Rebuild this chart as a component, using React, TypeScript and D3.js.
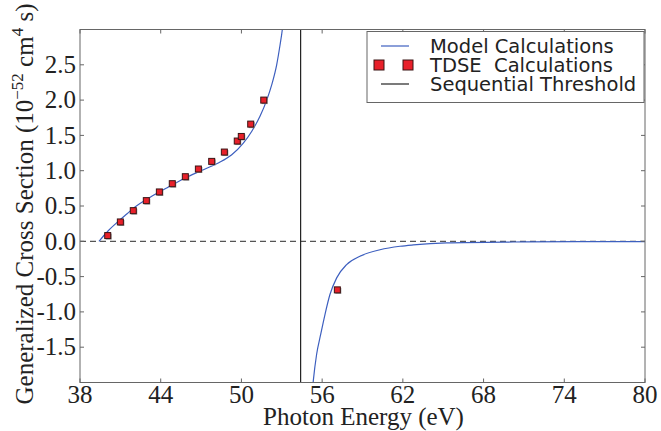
import React, { useEffect, useRef } from 'react'
import * as d3 from 'd3'

// model curve below the sequential threshold (eV, 10^-52 cm^4 s)
const modelLowE = [39.41, 40.1, 40.85, 41.5, 42.09, 43.33, 44.57, 45.81, 47.05, 48.28, 49.28, 50.14, 50.76, 51.38, 51.88, 52.25, 52.62, 52.87, 53.04, 53.2]
const modelLowV = [0, 0.15, 0.283, 0.39, 0.486, 0.637, 0.77, 0.897, 1.004, 1.11, 1.226, 1.39, 1.556, 1.77, 2.0, 2.216, 2.5, 2.78, 3.0, 3.3]

// model curve above the threshold
const modelHighE = [55.28, 55.34, 55.59, 55.89, 56.21, 56.58, 57.08, 57.82, 58.81, 60.3, 61.79, 62.78, 65.26, 70.2, 75, 80]
const modelHighV = [-2.1, -1.98, -1.6, -1.32, -1.037, -0.754, -0.518, -0.33, -0.212, -0.12, -0.07, -0.051, -0.023, -0.01, -0.006, -0.004]

// TDSE points
const tdseE = [40.06, 41.0, 41.96, 42.93, 43.9, 44.86, 45.83, 46.8, 47.79, 48.73, 49.69, 49.99, 50.69, 51.66, 57.13]
const tdseV = [0.081, 0.274, 0.434, 0.576, 0.699, 0.816, 0.915, 1.024, 1.132, 1.264, 1.42, 1.485, 1.66, 2.0, -0.688]

const threshold = 54.4
const xTicks = [38, 44, 50, 56, 62, 68, 74, 80]
const yTicks = [-1.5, -1.0, -0.5, 0.0, 0.5, 1.0, 1.5, 2.0, 2.5]
const legendLabels = ['Model Calculations', 'TDSE  Calculations', 'Sequential Threshold']

const BLUE = '#3d5fbf'
const RED = '#e8202a'

const App = () => {
  const svgRef = useRef(null)

  useEffect(() => {
    const svg = d3.select(svgRef.current)
    svg.selectAll('*').remove()

    const W = 661
    const H = 431
    const left = 80
    const right = 645
    const top = 29.5
    const bottom = 382.5

    const x = d3.scaleLinear().domain([38, 80]).range([left, right])
    const y = d3.scaleLinear().domain([-2, 3]).range([bottom, top])

    svg.attr('width', W).attr('height', H)

    svg
      .append('defs')
      .append('clipPath')
      .attr('id', 'plot-clip')
      .append('rect')
      .attr('x', left)
      .attr('y', top)
      .attr('width', right - left)
      .attr('height', bottom - top)

    const plot = svg.append('g').attr('clip-path', 'url(#plot-clip)')

    // zero line
    plot
      .append('line')
      .attr('x1', left)
      .attr('x2', right)
      .attr('y1', y(0))
      .attr('y2', y(0))
      .attr('stroke', '#555')
      .attr('stroke-width', 1.2)
      .attr('stroke-dasharray', '6,4')

    // threshold
    plot
      .append('line')
      .attr('x1', x(threshold))
      .attr('x2', x(threshold))
      .attr('y1', top)
      .attr('y2', bottom)
      .attr('stroke', '#222')
      .attr('stroke-width', 1.2)

    const line = d3
      .line()
      .x((d) => x(d[0]))
      .y((d) => y(d[1]))
      .curve(d3.curveMonotoneX)

    const low = modelLowE.map((e, i) => [e, modelLowV[i]])
    const high = modelHighE.map((e, i) => [e, modelHighV[i]])
    ;[low, high].forEach((pts) => {
      plot
        .append('path')
        .attr('d', line(pts))
        .attr('fill', 'none')
        .attr('stroke', BLUE)
        .attr('stroke-width', 1.2)
    })

    const pts = tdseE.map((e, i) => [e, tdseV[i]])
    const s = 6
    plot
      .append('g')
      .selectAll('rect')
      .data(pts)
      .join('rect')
      .attr('x', (d) => x(d[0]) - s / 2 + 1)
      .attr('y', (d) => y(d[1]) - s / 2 + 1)
      .attr('width', s)
      .attr('height', s)
      .attr('fill', '#999')
    plot
      .append('g')
      .selectAll('rect')
      .data(pts)
      .join('rect')
      .attr('x', (d) => x(d[0]) - s / 2)
      .attr('y', (d) => y(d[1]) - s / 2)
      .attr('width', s)
      .attr('height', s)
      .attr('fill', RED)
      .attr('stroke', '#3a1414')
      .attr('stroke-width', 1)

    // frame and ticks
    const axes = svg.append('g').attr('stroke', '#666').attr('stroke-width', 1)
    axes
      .append('rect')
      .attr('x', left)
      .attr('y', top)
      .attr('width', right - left)
      .attr('height', bottom - top)
      .attr('fill', 'none')
    const tl = 4
    xTicks.forEach((t) => {
      axes.append('line').attr('x1', x(t)).attr('x2', x(t)).attr('y1', bottom).attr('y2', bottom - tl)
      axes.append('line').attr('x1', x(t)).attr('x2', x(t)).attr('y1', top).attr('y2', top + tl)
    })
    yTicks.forEach((t) => {
      axes.append('line').attr('x1', left).attr('x2', left + tl).attr('y1', y(t)).attr('y2', y(t))
      axes.append('line').attr('x1', right).attr('x2', right - tl).attr('y1', y(t)).attr('y2', y(t))
    })

    const serif = "'Liberation Serif', 'Times New Roman', serif"
    const labels = svg.append('g').attr('font-family', serif).attr('font-size', 25).attr('fill', '#222')
    labels
      .selectAll('text.xt')
      .data(xTicks)
      .join('text')
      .attr('class', 'xt')
      .attr('x', (d) => x(d))
      .attr('y', 403)
      .attr('text-anchor', 'middle')
      .text((d) => d)
    labels
      .selectAll('text.yt')
      .data(yTicks)
      .join('text')
      .attr('class', 'yt')
      .attr('x', 76)
      .attr('y', (d) => y(d))
      .attr('dy', '0.33em')
      .attr('text-anchor', 'end')
      .text((d) => d3.format('.1f')(d).replace('−', '-'))

    labels
      .append('text')
      .attr('x', (left + right) / 2 + 1)
      .attr('y', 424.5)
      .attr('text-anchor', 'middle')
      .text('Photon Energy (eV)')

    const yl = labels
      .append('text')
      .attr('transform', `translate(33,${(top + bottom) / 2 - 2}) rotate(-90)`)
      .attr('text-anchor', 'middle')
    yl.append('tspan').text('Generalized Cross Section (10')
    yl.append('tspan').attr('dy', -10).attr('font-size', 17).text('−52')
    yl.append('tspan').attr('dy', 10).text(' cm')
    yl.append('tspan').attr('dy', -10).attr('font-size', 17).text('4')
    yl.append('tspan').attr('dy', 10).text(' s)')

    // legend
    const lg = svg.append('g')
    lg.append('rect')
      .attr('x', 367)
      .attr('y', 31.5)
      .attr('width', 277)
      .attr('height', 71)
      .attr('fill', '#fff')
      .attr('stroke', '#666')
      .attr('stroke-width', 1)
    const rows = [46, 65, 84]
    lg.append('line').attr('x1', 381).attr('x2', 409).attr('y1', rows[0]).attr('y2', rows[0]).attr('stroke', BLUE).attr('stroke-width', 1.2)
    ;[379, 408].forEach((cx) => {
      lg.append('rect')
        .attr('x', cx - 5)
        .attr('y', rows[1] - 5)
        .attr('width', 10)
        .attr('height', 10)
        .attr('fill', RED)
        .attr('stroke', '#3a1414')
        .attr('stroke-width', 1)
    })
    lg.append('line').attr('x1', 381).attr('x2', 409).attr('y1', rows[2]).attr('y2', rows[2]).attr('stroke', '#222').attr('stroke-width', 1.2)
    lg.selectAll('text')
      .data(legendLabels)
      .join('text')
      .attr('x', 430)
      .attr('y', (d, i) => rows[i])
      .attr('dy', '0.36em')
      .attr('font-family', "'DejaVu Sans', sans-serif")
      .attr('font-size', 19.5)
      .attr('fill', '#222')
      .style('white-space', 'pre')
      .text((d) => d)
  }, [])

  return (
    <div style={{ position: 'absolute', left: 0, top: 0, width: 661, height: 431, background: '#fff' }}>
      <svg ref={svgRef} style={{ display: 'block' }} />
    </div>
  )
}

export default App
